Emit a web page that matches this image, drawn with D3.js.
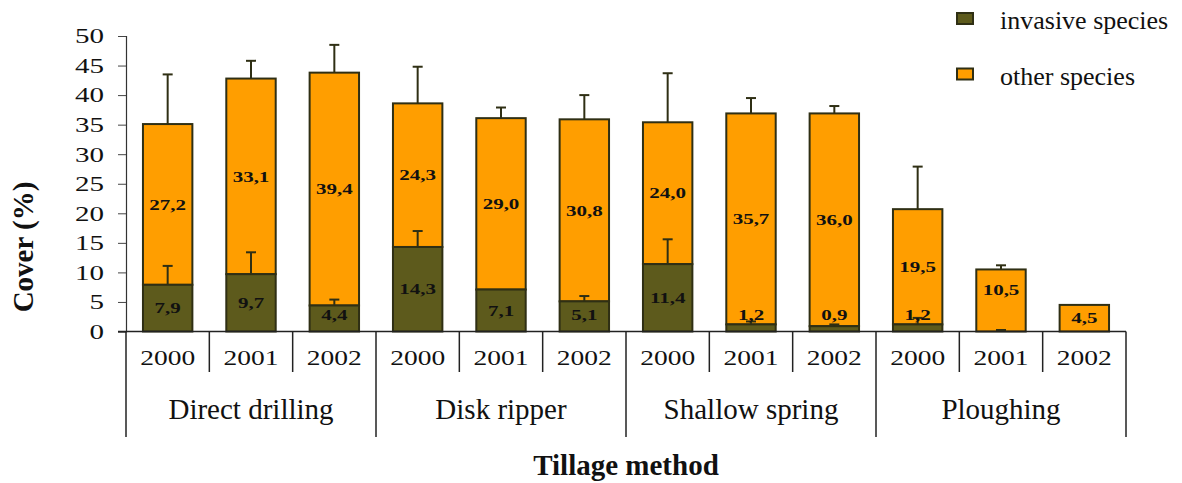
<!DOCTYPE html>
<html>
<head>
<meta charset="utf-8">
<script src="https://cdn.jsdelivr.net/npm/d3@7"></script>
<style>
  html, body { margin: 0; padding: 0; background: #fff; }
  svg { display: block; }
  text { font-family: "Liberation Serif", "Times New Roman", serif; fill: #111; }
</style>
</head>
<body>
<svg id="chart" width="1182" height="483"></svg>
<script>
// Tillage methods and sampling years
const methods = ["Direct drilling", "Disk ripper", "Shallow spring", "Ploughing"];
const years = ["2000", "2001", "2002"];

// Cover (%) per method × year, in the order above
const invasive = [7.9, 9.7, 4.4, 14.3, 7.1, 5.1, 11.4, 1.2, 0.9, 1.2, 0.0, 0.0];
const other    = [27.2, 33.1, 39.4, 24.3, 29.0, 30.8, 24.0, 35.7, 36.0, 19.5, 10.5, 4.5];

// Standard errors (upper whiskers)
const invasiveErr = [3.2, 3.7, 1.0, 2.7, 0.0, 0.9, 4.2, 0.5, 0.3, 1.1, 0.25, 0.0];
const totalErr    = [8.4, 3.0, 4.7, 6.2, 1.8, 4.1, 8.3, 2.6, 1.25, 7.2, 0.7, 0.0];

const yTicks = [0, 5, 10, 15, 20, 25, 30, 35, 40, 45, 50];
const seriesNames = ["invasive species", "other species"];

const colInv = "#5d5a1c";
const colOther = "#ff9e00";
const colEdge = "#2f2f14";

const svg = d3.select("#chart");
const plotLeft = 126, plotRight = 1126, plotTop = 36, plotBottom = 331.5;

const keys = [];
methods.forEach(m => years.forEach(yr => keys.push(m + "|" + yr)));

const pad = 0.407;
const x = d3.scaleBand().domain(keys).range([plotLeft, plotRight])
  .paddingInner(pad).paddingOuter(pad / 2);
const step = x.step();
const y = d3.scaleLinear().domain([0, 50]).range([plotBottom, plotTop]);

const rows = keys.map((k, i) => ({
  key: k,
  inv: invasive[i],
  oth: other[i],
  total: invasive[i] + other[i],
  invErr: invasiveErr[i],
  totErr: totalErr[i]
}));

// Y axis
const yAxis = d3.axisLeft(y).tickValues(yTicks).tickSize(8).tickFormat(d3.format("d"));
const gy = svg.append("g").attr("transform", `translate(${plotLeft},0)`).call(yAxis);
gy.select(".domain").attr("stroke", "#333").attr("stroke-width", 1.2);
gy.selectAll(".tick line").attr("stroke", "#444").attr("stroke-width", 1);
gy.selectAll(".tick text").remove();
gy.selectAll(".tick").append("text")
  .attr("transform", "translate(-22,0) scale(1.45,1)")
  .attr("text-anchor", "end")
  .attr("dy", "0.34em")
  .attr("font-size", 20)
  .attr("fill", "#222")
  .text(d => d);

// Bars
const barG = svg.append("g");
rows.forEach(r => {
  const bx = x(r.key), bw = x.bandwidth();
  // other species (stacked on top)
  barG.append("rect")
    .attr("x", bx).attr("width", bw)
    .attr("y", y(r.total)).attr("height", y(r.inv) - y(r.total))
    .attr("fill", colOther).attr("stroke", colEdge).attr("stroke-width", 2);
  if (r.inv > 0) {
    barG.append("rect")
      .attr("x", bx).attr("width", bw)
      .attr("y", y(r.inv)).attr("height", y(0) - y(r.inv))
      .attr("fill", colInv).attr("stroke", colEdge).attr("stroke-width", 2);
  }
});

// Error whiskers
function whisker(cx, from, to) {
  if (to <= from) return;
  barG.append("line").attr("x1", cx).attr("x2", cx)
    .attr("y1", y(from)).attr("y2", y(to))
    .attr("stroke", colEdge).attr("stroke-width", 2);
  barG.append("line").attr("x1", cx - 5).attr("x2", cx + 5)
    .attr("y1", y(to)).attr("y2", y(to))
    .attr("stroke", colEdge).attr("stroke-width", 2);
}
rows.forEach(r => {
  const cx = x(r.key) + x.bandwidth() / 2;
  whisker(cx, r.inv, r.inv + r.invErr);
  whisker(cx, r.total, r.total + r.totErr);
});

// Value labels: centred in their segment, kept clear of the baseline
const fmt = v => v.toFixed(1).replace(".", ",");
function valueLabel(cx, v, mid) {
  barG.append("text")
    .attr("transform", `translate(${cx},${y(mid)}) scale(1.4,1)`)
    .attr("text-anchor", "middle")
    .attr("dy", "0.35em")
    .attr("font-size", 15)
    .attr("font-weight", "bold")
    .text(fmt(v));
}
rows.forEach(r => {
  const cx = x(r.key) + x.bandwidth() / 2;
  let otherMid = r.inv + r.oth / 2;
  if (r.inv === 0 && r.oth > 8) otherMid = Math.max(otherMid, 7);
  valueLabel(cx, r.oth, otherMid);
  if (r.inv > 0) valueLabel(cx, r.inv, Math.max(r.inv / 2, 2.9));
});

// Category axis: baseline, year cells, method cells
const axG = svg.append("g");
axG.append("line").attr("x1", plotLeft - 8).attr("x2", plotRight)
  .attr("y1", plotBottom).attr("y2", plotBottom).attr("stroke", "#222").attr("stroke-width", 1.5);

keys.forEach((k, i) => {
  const x0 = x(k) - step * pad / 2;
  const isGroupEdge = i % years.length === 0;
  axG.append("line").attr("x1", x0).attr("x2", x0)
    .attr("y1", plotBottom).attr("y2", isGroupEdge ? 437 : 372)
    .attr("stroke", "#222").attr("stroke-width", 1.5);
  axG.append("text")
    .attr("transform", `translate(${x(k) + x.bandwidth() / 2},365) scale(1.25,1)`)
    .attr("text-anchor", "middle")
    .attr("font-size", 22)
    .attr("fill", "#222")
    .text(k.split("|")[1]);
});
axG.append("line").attr("x1", plotRight).attr("x2", plotRight)
  .attr("y1", plotBottom).attr("y2", 437).attr("stroke", "#222").attr("stroke-width", 1.5);

methods.forEach(m => {
  const first = x(m + "|" + years[0]) - step * pad / 2;
  const cx = first + step * years.length / 2;
  axG.append("text")
    .attr("x", cx).attr("y", 419)
    .attr("text-anchor", "middle")
    .attr("font-size", 29)
    .text(m);
});

// Axis titles
svg.append("text")
  .attr("x", (plotLeft + plotRight) / 2).attr("y", 475)
  .attr("text-anchor", "middle")
  .attr("font-size", 29).attr("font-weight", "bold")
  .text("Tillage method");

svg.append("text")
  .attr("transform", "translate(33,247) rotate(-90)")
  .attr("text-anchor", "middle")
  .attr("font-size", 29).attr("font-weight", "bold")
  .text("Cover (%)");

// Legend
const legend = svg.append("g");
[colInv, colOther].forEach((c, i) => {
  const ly = 13 + i * 55.5;
  legend.append("rect").attr("x", 957).attr("y", ly).attr("width", 16).attr("height", 11)
    .attr("fill", c).attr("stroke", colEdge).attr("stroke-width", 2);
  legend.append("text").attr("x", 1000).attr("y", ly + 16)
    .attr("font-size", 26).text(seriesNames[i]);
});
</script>
</body>
</html>
